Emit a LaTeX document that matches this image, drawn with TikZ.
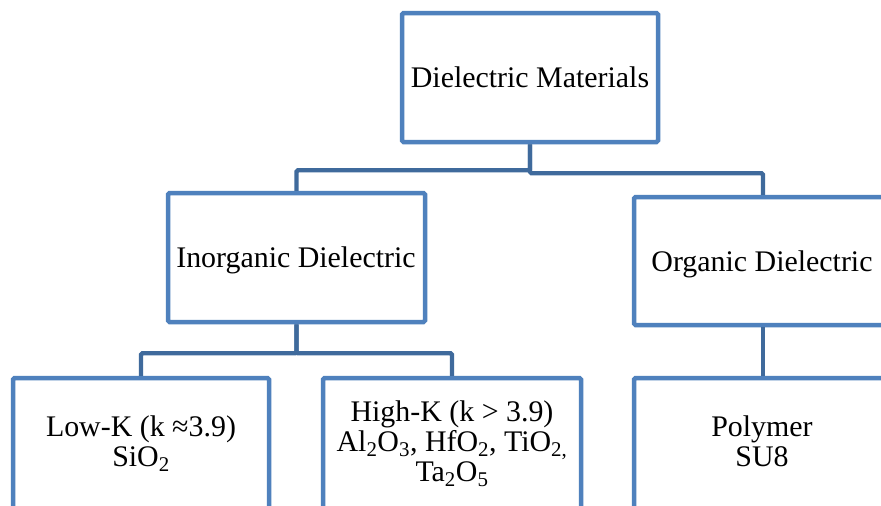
\documentclass[tikz,border=0pt]{standalone}
\usepackage{fontspec}
\setmainfont{Liberation Serif}
\newfontfamily\tmsfont{Liberation Serif}
\definecolor{boxblue}{HTML}{4F81BD}
\definecolor{connblue}{HTML}{3F6A9C}
\tikzset{
  box/.style={draw=boxblue, line width=4.5pt, rounded corners=1.5pt, fill=white, inner sep=0pt},
  conn/.style={draw=connblue, line width=4.3pt, rounded corners=1.5pt},
  txt/.style={font=\tmsfont\fontsize{29.9}{30}\selectfont, align=center, inner sep=0pt}
}
\begin{document}
\begin{tikzpicture}[x=1pt,y=-1pt]
\useasboundingbox (0,0) rectangle (881,506);
\clip (0,0) rectangle (881,506);
\fill[white] (0,0) rectangle (881,506);
% boxes
\node[box, minimum width=256pt, minimum height=129pt] (top) at (530,77.5) {};
\node[box, minimum width=257pt, minimum height=129pt] (inorg) at (296.5,257.5) {};
\node[box, minimum width=258pt, minimum height=128pt] (org) at (763,261) {};
\node[box, minimum width=256pt, minimum height=140pt] (low) at (141,448) {};
\node[box, minimum width=258pt, minimum height=140pt] (high) at (452,448) {};
\node[box, minimum width=258pt, minimum height=140pt] (poly) at (763,448) {};
% connectors
\draw[conn] (top.south) -- ++(0,26) -| (inorg.north);
\draw[conn] (top.south) -- ++(0,29) -| (org.north);
\draw[conn] (inorg.south) -- ++(0,29) -| (low.north);
\draw[conn] (inorg.south) -- ++(0,29) -| (high.north);
\draw[conn] (org.south) -- (poly.north);
% texts
\node[txt, anchor=base] (topt) at (530,87) {Dielectric Materials};
\node[txt, anchor=base] (inorgt) at (296,267) {Inorganic Dielectric};
\node[txt, anchor=base] (orgt) at (762,271) {Organic Dielectric};
\node[txt] (lowt) at (141,443.7) {Low-K (k ≈3.9)\\SiO\textsubscript{2}};
\node[txt] (hight) at (452,443.6) {High-K (k > 3.9)\\Al\textsubscript{2}O\textsubscript{3}, HfO\textsubscript{2}, TiO\textsubscript{2,}\\Ta\textsubscript{2}O\textsubscript{5}};
\node[txt] (polyt) at (762,440.8) {Polymer\\SU8};
\end{tikzpicture}
\end{document}
